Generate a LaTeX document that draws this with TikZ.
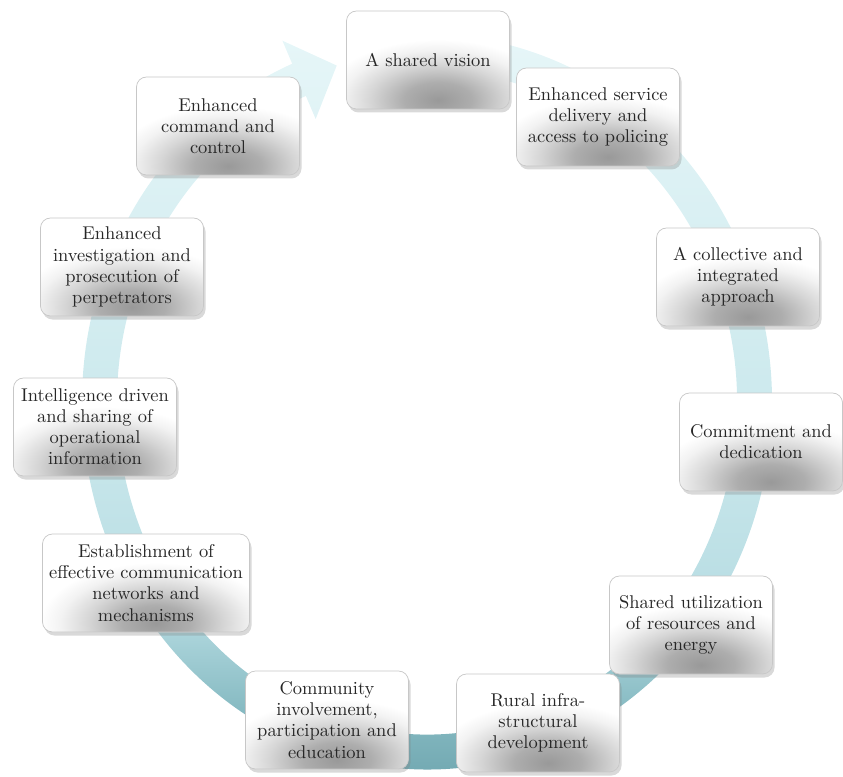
\documentclass[tikz,border=0pt]{standalone}
\usetikzlibrary{calc,positioning,shadows}
\definecolor{cyDark}{HTML}{6FA6AF}
\definecolor{cyDarkMid}{HTML}{86BAC2}
\definecolor{cyMid}{HTML}{B8DDE3}
\definecolor{cyMidLight}{HTML}{CCE9ED}
\definecolor{cyLight}{HTML}{E6F6F8}
\pgfdeclareverticalshading{cy_ringshade}{100bp}{color(0bp)=(cyDark); color(25bp)=(cyDark); color(30bp)=(cyDarkMid); color(37bp)=(cyMid); color(50bp)=(cyMidLight); color(75bp)=(cyLight); color(100bp)=(cyLight)}
\pgfdeclareradialshading{cy_glowshade}{\pgfpoint{0bp}{0bp}}{color(0bp)=(black!40); color(5bp)=(black!32); color(10bp)=(black!16); color(14bp)=(black!5); color(17bp)=(white); color(50bp)=(white)}
\tikzset{
	cy_base/.style={font=\fontsize{10.5}{12}\selectfont, text=black!85},
	cy_box/.style={cy_base, draw=black!22, rectangle, rounded corners=2mm, fill=white, align=center, inner sep=1mm, minimum width=32.6mm, minimum height=19.6mm, drop shadow={shadow xshift=0.4mm, shadow yshift=-0.7mm, opacity=0.3}, path picture={\shade[shading=cy_glowshade] ($(path picture bounding box.south)+(2mm,1mm)$) ellipse [x radius=34mm, y radius=17mm];}},
	cy_wide/.style={cy_box, minimum width=41.4mm},
	cy_ring/.style={shading=cy_ringshade}
}
\begin{document}
\begin{tikzpicture}
	\useasboundingbox (0,0) rectangle (16.86,15.52);
	\shade [cy_ring, shift={(8.54,7.48)}] (85:6.9 and 7.35) arc [start angle=85, end angle=-247, x radius=6.9cm, y radius=7.35cm] -- (-247:7.4 and 7.85) -- (-254:6.55 and 7.0) -- (-247:5.7 and 6.15) -- (-247:6.2 and 6.65) arc [start angle=-247, end angle=85, x radius=6.2cm, y radius=6.65cm] -- cycle;

	\node [cy_box] (vision) at (8.56,14.32) {A shared vision};
	\node [cy_box] (service) at (11.96,13.18) {Enhanced service\\delivery and\\access to policing};
	\node [cy_box] (collective) at (14.76,9.98) {A collective and\\integrated\\approach};
	\node [cy_box] (commitment) at (15.22,6.68) {Commitment and\\dedication};
	\node [cy_box] (utilization) at (13.82,3.02) {Shared utilization\\of resources and\\energy};
	\node [cy_box] (rural) at (10.76,1.06) {Rural infra-\\structural\\development};
	\node [cy_box] (community) at (6.54,1.12) {Community\\involvement,\\participation and\\education};
	\node [cy_wide] (establishment) at (2.92,3.86) {Establishment of\\effective communication\\networks and\\mechanisms};
	\node [cy_box] (intelligence) at (1.90,6.98) {Intelligence driven\\and sharing of\\operational\\information};
	\node [cy_box] (investigation) at (2.44,10.18) {Enhanced\\investigation and\\prosecution of\\perpetrators};
	\node [cy_box] (command) at (4.36,13.00) {Enhanced\\command and\\control};
\end{tikzpicture}
\end{document}
